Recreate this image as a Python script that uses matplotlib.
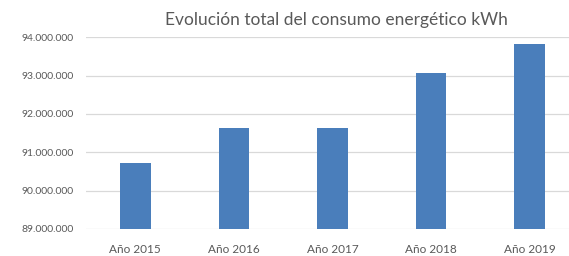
import matplotlib.pyplot as plt
from matplotlib.ticker import FuncFormatter

# Data
years = ['Año 2015', 'Año 2016', 'Año 2017', 'Año 2018', 'Año 2019']
consumo_kwh = [90710000, 91640000, 91640000, 93070000, 93830000]
y_ticks = [89000000, 90000000, 91000000, 92000000, 93000000, 94000000]

plt.rcParams['font.family'] = ['Lato', 'DejaVu Sans']

fig = plt.figure(figsize=(5.69, 2.56), dpi=100)
ax = fig.add_axes([86 / 569, 27 / 256, 483 / 569, 191.7 / 256])

x = range(len(years))
ax.bar(x, consumo_kwh, width=0.31, color='#4a7ebb', zorder=3)

ax.set_ylim(89000000, 94000000)
ax.set_xlim(-0.5, 4.4)
ax.set_yticks(y_ticks)
# thousands separated with dots (Spanish style)
ax.yaxis.set_major_formatter(FuncFormatter(lambda v, p: f'{int(v):,}'.replace(',', '.')))
ax.set_xticks(list(x))
ax.set_xticklabels(years)

ax.grid(axis='y', color='#d9d9d9', linewidth=0.9, zorder=0)
for s in ax.spines.values():
    s.set_visible(False)
ax.tick_params(axis='both', length=0, colors='#595959')
ax.tick_params(axis='y', labelsize=7.5, pad=9)
ax.tick_params(axis='x', labelsize=8.5, pad=11)

fig.text(336 / 569, 1 - 20 / 256, 'Evolución total del consumo energético kWh',
         ha='center', va='center', fontsize=12.5, color='#595959')

fig.savefig('out.png', dpi=100)
